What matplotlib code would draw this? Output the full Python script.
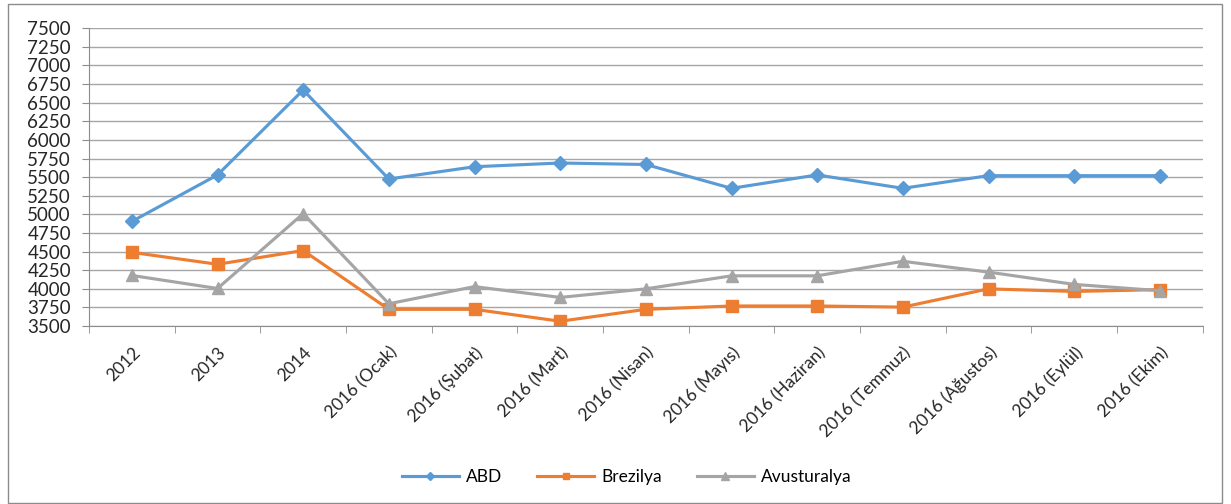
import matplotlib
matplotlib.use("Agg")
import matplotlib.pyplot as plt
from matplotlib.patches import Rectangle
from matplotlib.ticker import MultipleLocator, FixedLocator

# Data
categories = [
    "2012", "2013", "2014", "2016 (Ocak)", "2016 (Şubat)", "2016 (Mart)",
    "2016 (Nisan)", "2016 (Mayıs)", "2016 (Haziran)", "2016 (Temmuz)",
    "2016 (Ağustos)", "2016 (Eylül)", "2016 (Ekim)",
]
abd = [4905, 5530, 6670, 5475, 5640, 5690, 5670, 5350, 5530, 5350, 5520, 5520, 5520]
brezilya = [4490, 4330, 4515, 3725, 3725, 3565, 3725, 3770, 3770, 3755, 4000, 3965, 3990]
avusturalya = [4180, 4005, 5010, 3800, 4030, 3885, 4000, 4175, 4175, 4370, 4225, 4060, 3975]

plt.rcParams["font.family"] = ["Lato", "DejaVu Sans"]

fig = plt.figure(figsize=(12.31, 5.04), dpi=100)
ax = fig.add_axes([0.0723, 0.353, 0.9047, 0.591])

# outer chart frame
fig.patches.append(Rectangle((8 / 1231, 0.002), 1214 / 1231, 0.99, transform=fig.transFigure,
                             fill=False, edgecolor="#8c8c8c", linewidth=1.0))

x = range(len(categories))
ax.plot(x, abd, color="#5B9BD5", linewidth=2.25, marker="D", markersize=7, label="ABD")
ax.plot(x, brezilya, color="#ED7D31", linewidth=2.25, marker="s", markersize=8, label="Brezilya")
ax.plot(x, avusturalya, color="#A5A5A5", linewidth=2.25, marker="^", markersize=9, label="Avusturalya")

ax.set_xlim(-0.5, len(categories) - 0.5)
ax.set_ylim(3500, 7500)
ax.yaxis.set_major_locator(MultipleLocator(250))
ax.grid(axis="y", color="#a6a6a6", linewidth=1.0)
ax.set_axisbelow(True)

ax.set_xticks(list(x))
ax.set_xticklabels(categories, rotation=45, ha="right", rotation_mode="anchor", fontsize=12.5,
                   color="#262626")
ax.xaxis.set_minor_locator(FixedLocator([i - 0.5 for i in range(len(categories) + 1)]))
ax.tick_params(axis="x", which="major", length=0, pad=13)
ax.tick_params(axis="x", which="minor", length=5, color="#8c8c8c")
ax.tick_params(axis="y", length=5, color="#8c8c8c", labelsize=13.5, labelcolor="#262626", pad=8)

for side in ["top", "right"]:
    ax.spines[side].set_visible(False)
for side in ["left", "bottom"]:
    ax.spines[side].set_color("#8c8c8c")

fig.legend(loc="center", bbox_to_anchor=(0.509, 0.054), ncol=3, frameon=False, fontsize=12.5,
           handlelength=3.3, handletextpad=0.4, columnspacing=2.0, markerscale=0.6)

fig.savefig("out.png", dpi=100)
